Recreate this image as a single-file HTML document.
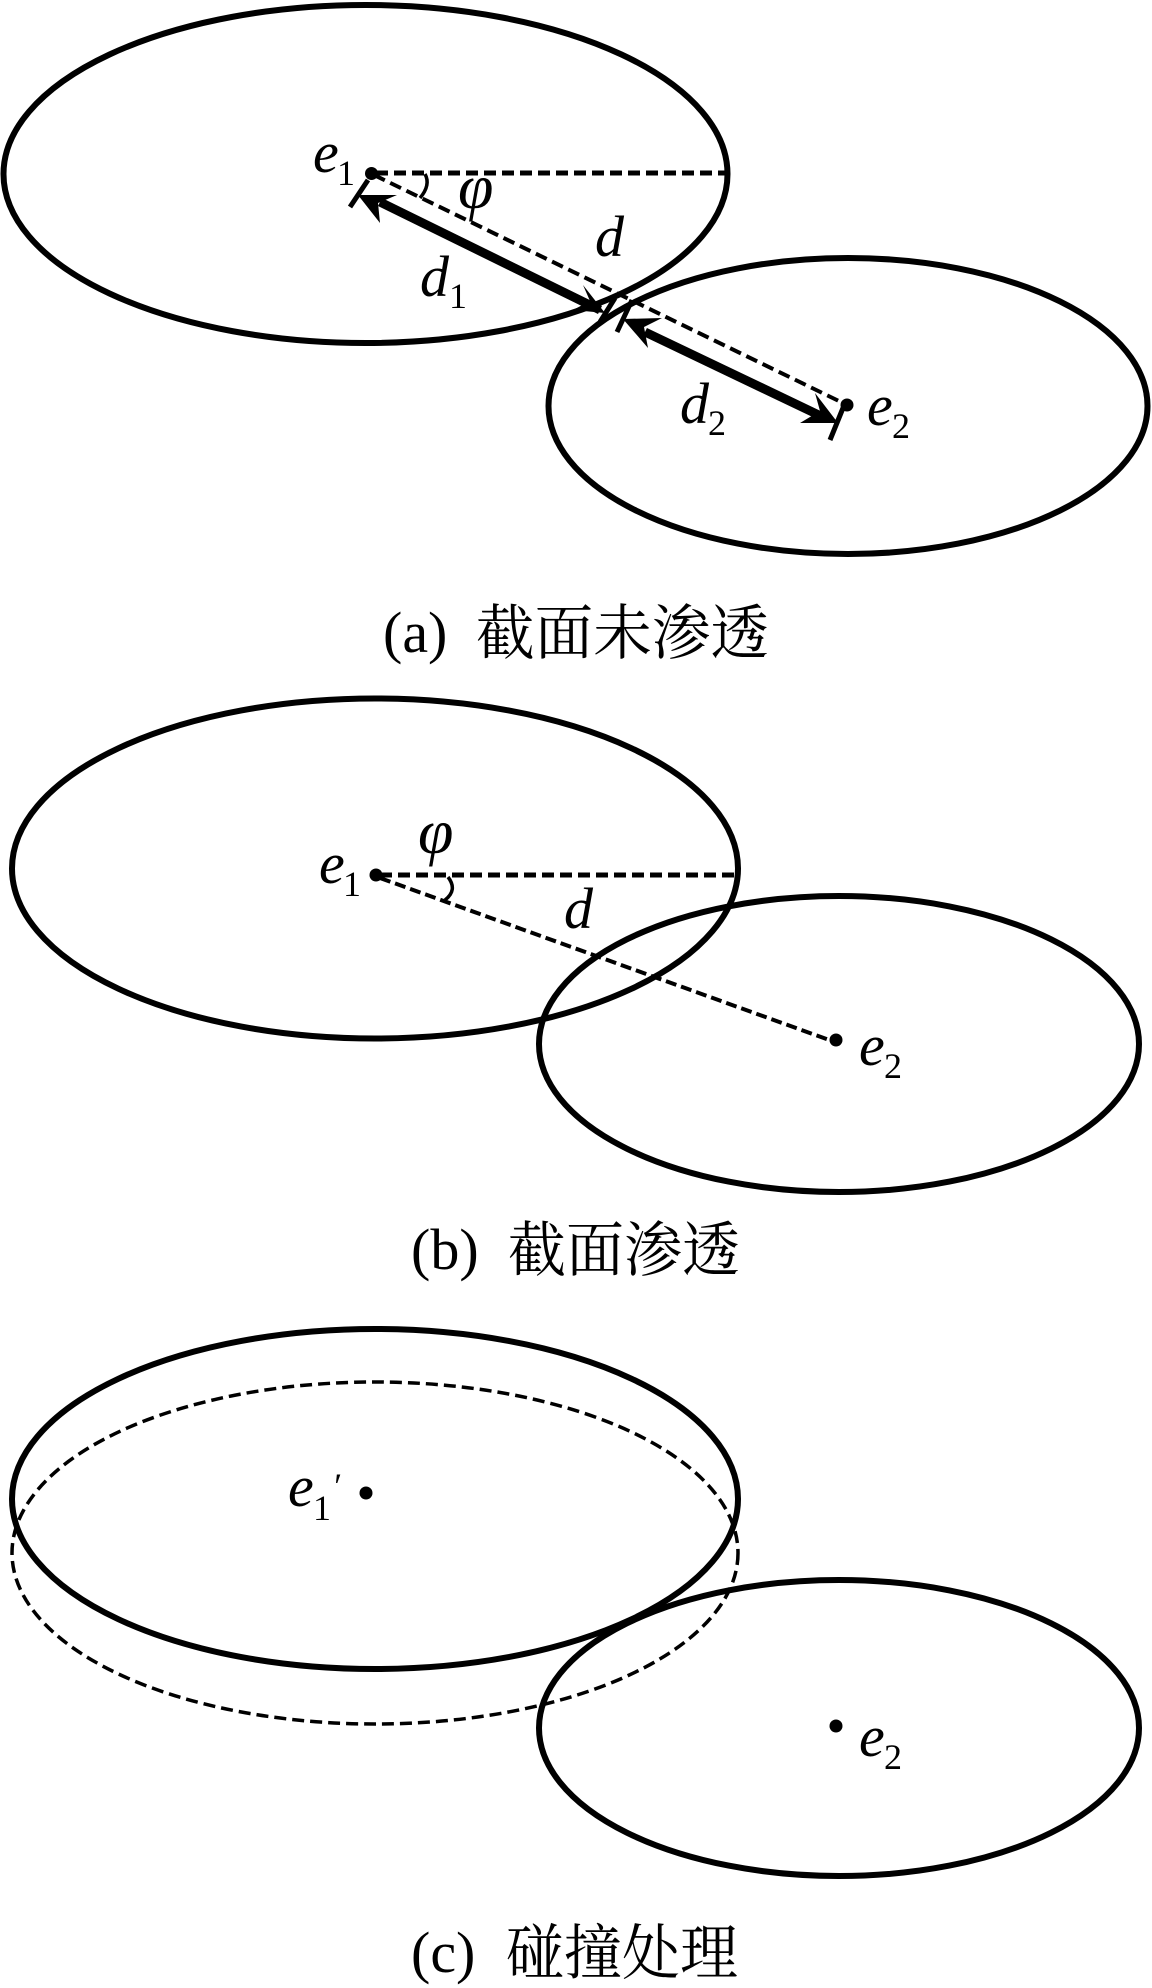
<!DOCTYPE html>
<html><head><meta charset="utf-8"><style>
html,body{margin:0;padding:0;background:#fff}
svg{display:block}
text{font-family:"Liberation Serif","Noto Serif CJK SC",serif;fill:#000}
.i{font-style:italic;font-size:58px}
.p{font-style:italic;font-size:64px}
.s{font-size:36px}
.c{font-size:58px}
.z{font-size:60px}
.e{fill:none;stroke:#000;stroke-width:6}
.d{fill:none;stroke:#000;stroke-width:4;stroke-dasharray:12 6}
</style></head><body>
<svg width="1152" height="1988" viewBox="0 0 1152 1988" xmlns="http://www.w3.org/2000/svg">
<!-- a -->
<ellipse class="e" cx="365.5" cy="174" rx="362" ry="169"/>
<ellipse class="e" cx="848" cy="406" rx="299.5" ry="148"/>
<path class="d" style="stroke-width:5" d="M376 173H727"/>
<path class="d" d="M374 175L845 404"/>
<circle cx="371.500" cy="173.500" r="6.500"/><circle cx="847" cy="405" r="6.500"/>
<path d="M425 174Q431 185 420 198" fill="none" stroke="#000" stroke-width="3.500"/>
<g stroke="#000" stroke-width="5" fill="none">
<path d="M368 180L350 207M615 298L600 322M632 300L617 332M843 408L830 440"/>
</g>
<path d="M380 202L600 310" stroke="#000" stroke-width="9"/>
<path d="M645 332L825 418" stroke="#000" stroke-width="9"/>
<path d="M358 195L397 195L378 203L380 223Z"/>
<path d="M605 313L583 285L590 301L573 310Z"/>
<path d="M623 319L662 318L644 327L648 348Z"/>
<path d="M838 423L815 393L820 411L800 423Z"/>
<text class="i" x="313" y="172">e</text><text class="s" x="337" y="185">1</text>
<text class="p" x="458" y="208">φ</text>
<text class="i" x="595" y="256">d</text>
<text class="i" x="420" y="296">d</text><text class="s" x="449" y="308">1</text>
<text class="i" x="680" y="423">d</text><text class="s" x="708" y="435">2</text>
<text class="i" x="867" y="425">e</text><text class="s" x="892" y="438">2</text>
<text class="c" x="383" y="652">(a)</text><text class="z" x="476" y="654" textLength="293" lengthAdjust="spacingAndGlyphs">截面未渗透</text>
<!-- b -->
<ellipse class="e" cx="375" cy="868.500" rx="363" ry="170"/>
<ellipse class="e" cx="839" cy="1044" rx="300" ry="148"/>
<path class="d" style="stroke-width:5" d="M380 875H737"/>
<path class="d" style="stroke-dasharray:11 5" d="M380 878L832 1041"/>
<circle cx="376" cy="875" r="6.500"/><circle cx="836" cy="1040" r="6.500"/>
<path d="M448 877Q458 890 445 900" fill="none" stroke="#000" stroke-width="3.500"/>
<text class="p" x="418" y="853">φ</text>
<text class="i" x="319" y="883">e</text><text class="s" x="343" y="896">1</text>
<text class="i" x="564" y="928">d</text>
<text class="i" x="859" y="1065">e</text><text class="s" x="884" y="1078">2</text>
<text class="c" x="411" y="1269">(b)</text><text class="z" x="508" y="1271" textLength="232" lengthAdjust="spacingAndGlyphs">截面渗透</text>
<!-- c -->
<ellipse class="e" cx="375" cy="1499" rx="363" ry="170"/>
<ellipse class="d" style="stroke-width:3.500" cx="375" cy="1553" rx="363" ry="171"/>
<ellipse class="e" cx="839" cy="1728" rx="300" ry="148"/>
<circle cx="366" cy="1493" r="6.500"/><circle cx="836" cy="1726" r="6.500"/>
<text class="i" x="288" y="1506">e</text><text class="s" x="313" y="1520">1</text><text class="s" x="332" y="1498" font-style="italic">′</text>
<text class="i" x="859" y="1756">e</text><text class="s" x="884" y="1769">2</text>
<text class="c" x="411" y="1972">(c)</text><text class="z" x="506" y="1974" textLength="232" lengthAdjust="spacingAndGlyphs">碰撞处理</text>
</svg>
</body></html>
